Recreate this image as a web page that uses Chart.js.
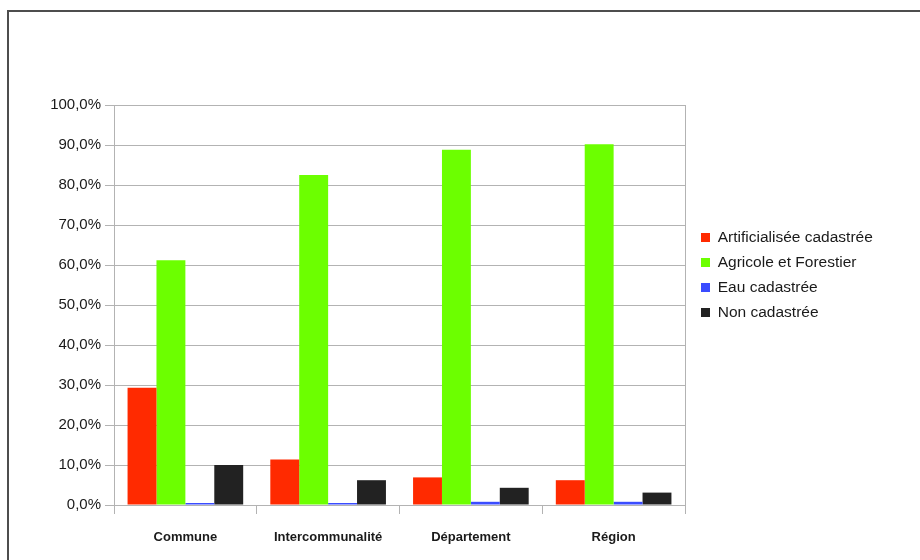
<!DOCTYPE html>
<html>
<head>
<meta charset="utf-8">
<script src="https://cdn.jsdelivr.net/npm/chart.js@4/dist/chart.umd.min.js"></script>
<style>
  html, body { margin: 0; padding: 0; background: #fff; }
  #wrap { position: relative; width: 920px; height: 560px; overflow: hidden; }
  #frame { position: absolute; left: 7px; top: 10px; width: 940px; height: 580px; border: 2px solid #4d4d4d; }
  #wrap canvas { position: absolute; left: 0; top: 0; }
</style>
</head>
<body>
<div id="wrap">
  <div id="frame"></div>
  <canvas id="mycanvas" width="920" height="560"></canvas>
</div>
<script>
var categories = ['Commune', 'Intercommunalité', 'Département', 'Région'];
var artificialisee = [29.3, 11.4, 6.9, 6.2];
var agricole = [61.2, 82.5, 88.8, 90.2];
var eau = [0.5, 0.5, 0.8, 0.8];
var nonCadastree = [10.0, 6.2, 4.3, 3.1];
var seriesNames = ['Artificialisée cadastrée', 'Agricole et Forestier', 'Eau cadastrée', 'Non cadastrée'];

var gridGrey = '#b3b3b3';

// keep the legend at a fixed width so the plot ends where it should,
// and nudge it a little to the right of the plot
var legendWidth = {
	id: 'legendWidth',
	afterInit: function(chart) {
		var lg = chart.legend;
		var fit = lg.fit;
		lg.fit = function() {
			fit.call(this);
			this.width = 235;
		};
	},
	afterLayout: function(chart) {
		chart.legend.left += 6.5;
	}
};

function ds(label, data, color) {
	return {
		label: label,
		data: data,
		backgroundColor: color,
		borderWidth: 0,
		barPercentage: 1.0,
		categoryPercentage: 0.81
	};
}

var chartdata = {
	labels: categories,
	datasets: [
		ds(seriesNames[0], artificialisee, '#ff2a00'),
		ds(seriesNames[1], agricole, '#6cff00'),
		ds(seriesNames[2], eau, '#3a4cff'),
		ds(seriesNames[3], nonCadastree, '#222222')
	]
};

var ctx = document.getElementById('mycanvas');

var barGraph = new Chart(ctx, {
	type: 'bar',
	data: chartdata,
	plugins: [legendWidth],
	options: {
		responsive: false,
		animation: false,
		layout: {
			padding: { top: 105, right: 0, bottom: 15, left: 0 }
		},
		plugins: {
			tooltip: { enabled: false },
			legend: {
				position: 'right',
				align: 'start',
				title: {
					display: true,
					text: '',
					font: { size: 12 },
					padding: { top: 100.8, bottom: 0 }
				},
				labels: {
					boxWidth: 9,
					boxHeight: 9,
					padding: 9.5,
					color: '#1a1a1a',
					font: { family: 'Liberation Sans', size: 15.5 }
				}
			}
		},
		scales: {
			x: {
				afterFit: function(axis) { axis.height = 40; },
				grid: {
					offset: true,
					drawOnChartArea: true,
					color: function(c) { return c.type === 'scale' ? gridGrey : 'rgba(0,0,0,0)'; },
					tickColor: gridGrey,
					tickLength: 9
				},
				border: { display: true, color: gridGrey },
				ticks: {
					padding: 16,
					color: '#1a1a1a',
					font: { family: 'Liberation Sans', size: 13, weight: 'bold' }
				}
			},
			y: {
				min: 0,
				max: 100,
				afterFit: function(axis) { axis.width = 114; },
				grid: {
					color: gridGrey,
					tickColor: gridGrey,
					tickLength: 9
				},
				border: { display: true, color: gridGrey },
				ticks: {
					stepSize: 10,
					padding: 4,
					color: '#1a1a1a',
					font: { family: 'Liberation Sans', size: 15 },
					callback: function(v) { return v.toFixed(1).replace('.', ',') + '%'; }
				}
			}
		}
	}
});
</script>
</body>
</html>
